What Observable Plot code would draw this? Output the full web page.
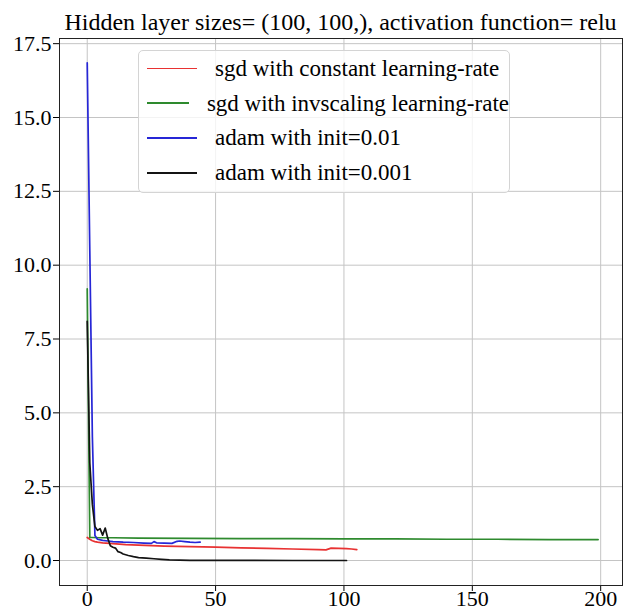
<!DOCTYPE html>
<html>
<head>
<meta charset="utf-8">
<script src="https://cdn.jsdelivr.net/npm/d3@7"></script>
<script src="https://cdn.jsdelivr.net/npm/@observablehq/plot@0.6"></script>
<style>
  html, body { margin: 0; padding: 0; background: white; }
  #wrap { position: relative; width: 623px; height: 610px; font-family: "Liberation Serif", "Times New Roman", serif; color: #000; }
  #wrap svg { position: absolute; left: 0; top: 0; font: 22px "Liberation Serif", "Times New Roman", serif; }
  #title { position: absolute; left: 0; top: 10px; width: 681px; text-align: center; font-size: 24px; line-height: 24px; white-space: nowrap; }
  #legend { position: absolute; left: 138px; top: 50px; width: 372px; height: 143px; box-sizing: border-box;
            border: 1px solid #d4d4d4; border-radius: 5px; background: rgba(255,255,255,0.8); }
  .row { display: flex; align-items: center; height: 34.8px; }
  .swatch { margin-left: 8px; width: 50px; height: 1.8px; }
  .lab { margin-left: 18px; font-size: 23px; line-height: 23px; white-space: nowrap; }
</style>
</head>
<body>
<div id="wrap">
  <div id="title"></div>
  <div id="legend"></div>
</div>
<script>
const titleText = "Hidden layer sizes= (100, 100,), activation function= relu";

const seriesNames = [
  "sgd with constant learning-rate",
  "sgd with invscaling learning-rate",
  "adam with init=0.01",
  "adam with init=0.001"
];
const seriesColors = ["#e83232", "#2e8a2e", "#2626d6", "#141414"];

const xTicks = [0, 50, 100, 150, 200];
const yTicks = [0, 2.5, 5, 7.5, 10, 12.5, 15, 17.5];

// sgd constant learning-rate
const redX = [0, 1, 2, 3, 4, 6, 10, 15, 20, 30, 40, 50, 60, 70, 80, 90, 93, 95, 98, 101, 103, 105];
const redY = [0.78, 0.72, 0.67, 0.64, 0.62, 0.60, 0.57, 0.54, 0.52, 0.49, 0.47, 0.45, 0.43, 0.41, 0.39, 0.37, 0.36, 0.42, 0.41, 0.40, 0.39, 0.37];

// sgd invscaling learning-rate
const greenX = [0, 1, 2, 5, 10, 20, 40, 60, 80, 100, 120, 140, 160, 180, 199];
const greenY = [9.2, 0.78, 0.78, 0.77, 0.77, 0.76, 0.75, 0.74, 0.74, 0.73, 0.73, 0.72, 0.72, 0.71, 0.71];

// adam init=0.01
const blueX = [0, 1, 2, 3, 4, 6, 8, 10, 14, 18, 22, 25, 26, 27, 30, 33, 35, 36, 38, 40, 42, 44];
const blueY = [16.85, 10.5, 4.2, 0.85, 0.72, 0.68, 0.66, 0.64, 0.62, 0.61, 0.59, 0.58, 0.64, 0.60, 0.59, 0.58, 0.65, 0.66, 0.64, 0.62, 0.61, 0.62];

// adam init=0.001
const blackX = [0, 1, 2, 3, 4, 5, 6, 7, 8, 9, 10, 11, 12, 13, 14, 16, 18, 20, 23, 26, 29, 32, 36, 40, 50, 60, 80, 101];
const blackY = [8.1, 3.3, 1.9, 1.15, 1.02, 1.08, 0.86, 1.1, 0.75, 0.5, 0.45, 0.42, 0.30, 0.27, 0.22, 0.17, 0.13, 0.10, 0.08, 0.06, 0.04, 0.02, 0.01, 0.005, 0.003, 0.002, 0.001, 0.001];

const toRows = (xs, ys) => xs.map((x, i) => ({x, y: ys[i]}));
const series = [toRows(redX, redY), toRows(greenX, greenY), toRows(blueX, blueY), toRows(blackX, blackY)];

document.getElementById("title").textContent = titleText;

const chart = Plot.plot({
  width: 623,
  height: 610,
  marginLeft: 59,
  marginRight: 1,
  marginTop: 38,
  marginBottom: 25,
  style: {fontFamily: "'Liberation Serif', 'Times New Roman', serif", fontSize: "22px", background: "transparent", color: "#000"},
  x: {domain: [-10.8, 208.5], ticks: xTicks, tickFormat: d => String(d), tickSize: 6, tickPadding: -1.5, label: null},
  y: {domain: [-0.846, 17.675], ticks: yTicks, tickFormat: d => d.toFixed(1), tickSize: 6, tickPadding: 2, label: null},
  marks: [
    Plot.ruleX(xTicks, {stroke: "#c4c4c4", strokeWidth: 1}),
    Plot.ruleY(yTicks, {stroke: "#c4c4c4", strokeWidth: 1}),
    ...series.map((d, i) => Plot.line(d, {x: "x", y: "y", stroke: seriesColors[i], strokeWidth: 1.7})),
    Plot.frame({stroke: "#222", strokeWidth: 1})
  ]
});
const wrap = document.getElementById("wrap");
wrap.insertBefore(chart, wrap.firstChild);

const legend = document.getElementById("legend");
seriesNames.forEach((name, i) => {
  const row = document.createElement("div");
  row.className = "row";
  const sw = document.createElement("div");
  sw.className = "swatch";
  sw.style.background = seriesColors[i];
  const lab = document.createElement("div");
  lab.className = "lab";
  lab.textContent = name;
  row.appendChild(sw);
  row.appendChild(lab);
  legend.appendChild(row);
});
</script>
</body>
</html>
